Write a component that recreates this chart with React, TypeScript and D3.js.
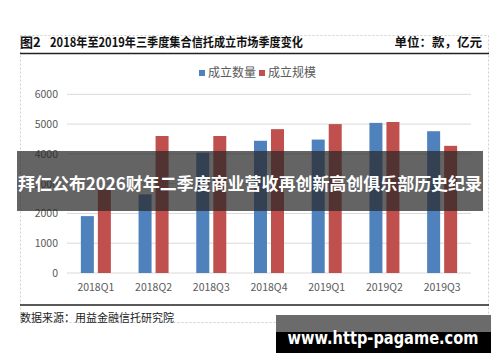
import React from "react";
import * as d3 from "d3";

const categories = ["2018Q1", "2018Q2", "2018Q3", "2018Q4", "2019Q1", "2019Q2", "2019Q3"];
const seriesNames = ["成立数量", "成立规模"];
const countValues = [1910, 2640, 4040, 4440, 4480, 5040, 4760];
const scaleValues = [2800, 4600, 4600, 4830, 5000, 5070, 4270];
const yTicks = [0, 1000, 2000, 3000, 4000, 5000, 6000];
const colors = ["#4f81bd", "#c0504d"];

const FONT = "'Noto Sans CJK SC', 'Noto Sans', sans-serif";

export default function App() {
  const W = 500, H = 362;
  const x = d3.scaleBand<string>().domain(categories).range([67, 471]);
  const y = d3.scaleLinear().domain([0, 6000]).range([273, 94.3]);
  const x1 = d3.scaleBand<string>().domain(seriesNames).range([-15, 15]).paddingInner(4 / 17);
  const data = [countValues, scaleValues];

  return (
    <div style={{ position: "absolute", left: 0, top: 0 }}>
      <svg width={W} height={H} style={{ display: "block", background: "#fff" }} fontFamily={FONT}>
        <rect x={0} y={0} width={W} height={H} fill="#fff" />
        {/* outer dotted frame */}
        <rect x={20.5} y={35.5} width={468} height={287} fill="none" stroke="#cfcfcf" strokeDasharray="2,2" />
        {/* title */}
        <text x={20} y={47} fontSize={13} fontWeight="bold" fill="#111">图2</text>
        <text x={50} y={47} fontSize={12.5} fontWeight="bold" fill="#111" textLength={253} lengthAdjust="spacingAndGlyphs">2018年至2019年三季度集合信托成立市场季度变化</text>
        <text x={482} y={47} fontSize={12.5} fontWeight="bold" fill="#111" textAnchor="end">单位：款，亿元</text>
        <line x1={20} x2={489} y1={53.5} y2={53.5} stroke="#222" strokeWidth={1.5} />
        <line x1={20} x2={489} y1={305} y2={305} stroke="#222" strokeWidth={1.5} />
        {/* legend */}
        {seriesNames.map((s, i) => {
          const lx = i === 0 ? 199 : 259;
          return (
            <g key={s}>
              <rect x={lx} y={70} width={6} height={6} fill={colors[i]} />
              <text x={lx + 9} y={77} fontSize={12} fill="#595959">{s}</text>
            </g>
          );
        })}
        {/* grid + y labels */}
        {yTicks.map((t) => (
          <g key={t}>
            <line x1={67} x2={471} y1={y(t)} y2={y(t)} stroke="#d9d9d9" strokeWidth={1} />
            <text x={58} y={y(t) + 4} fontSize={10.5} fill="#595959" textAnchor="end">{t}</text>
          </g>
        ))}
        {/* bars */}
        {categories.map((c, ci) => (
          <g key={c}>
            {seriesNames.map((s, si) => {
              const cx = (x(c) as number) + x.bandwidth() / 2;
              const v = data[si][ci];
              return (
                <rect key={s} x={cx + (x1(s) as number)} y={y(v)} width={x1.bandwidth()} height={y(0) - y(v)} fill={colors[si]} />
              );
            })}
            <text x={(x(c) as number) + x.bandwidth() / 2} y={291} fontSize={10.5} fill="#595959" textAnchor="middle">{c}</text>
          </g>
        ))}
        {/* source */}
        <text x={20} y={322} fontSize={11} fill="#222">数据来源：用益金融信托研究院</text>
        {/* banner overlay */}
        <rect x={17} y={151} width={466} height={60} fill="rgba(40,40,40,0.72)" />
        <text x={250} y={190} fontSize={17} fontWeight="bold" fill="#fff" textAnchor="middle" textLength={464} lengthAdjust="spacingAndGlyphs">拜仁公布2026财年二季度商业营收再创新高创俱乐部历史纪录</text>
        {/* watermark */}
        <rect x={276} y={315} width={215} height={17} fill="#6b6b6b" />
        <rect x={276} y={332} width={215} height={21} fill="#000" />
        <text x={383} y={344} fontSize={17} fontWeight="bold" fill="#fff" textAnchor="middle" textLength={191} lengthAdjust="spacingAndGlyphs" fontFamily="'DejaVu Sans', sans-serif">www.http-pagame.com</text>
      </svg>
    </div>
  );
}
